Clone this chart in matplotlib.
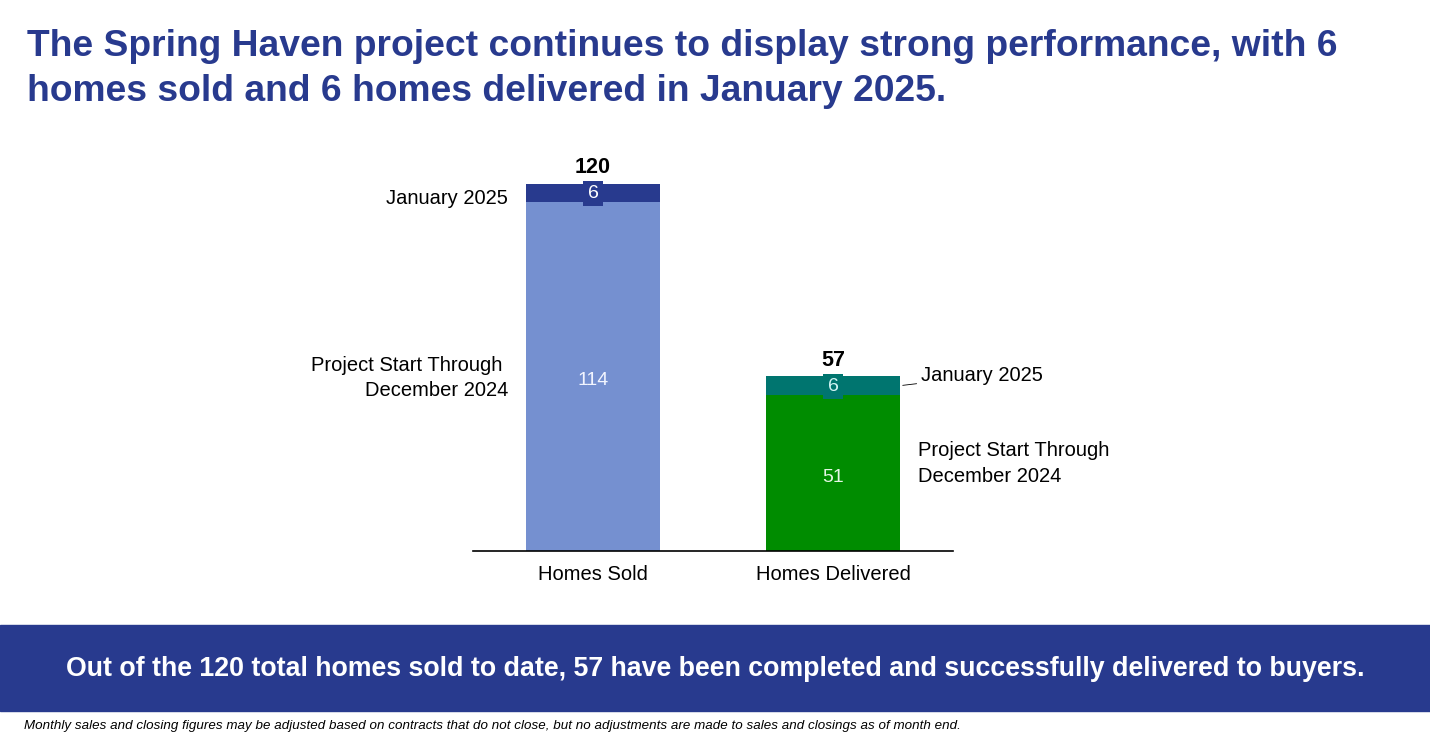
import matplotlib
matplotlib.use("Agg")
import matplotlib.pyplot as plt
from matplotlib.patches import Rectangle

plt.rcParams['font.family'] = ['Liberation Sans', 'DejaVu Sans']

# Data
categories = ["Homes Sold", "Homes Delivered"]
through_dec_2024 = [114, 51]
january_2025 = [6, 6]
totals = [a + b for a, b in zip(through_dec_2024, january_2025)]

navy = "#283a8e"
base_colors = ["#7590d0", "#008c00"]
top_colors = ["#283a8e", "#00756f"]
base_text_colors = ["#f2f5ff", "#e4f7e4"]
top_text_colors = ["white", "#d2f4f4"]

fig = plt.figure(figsize=(14.3, 7.39), dpi=100)

# Title, two lines
title_lines = ["The Spring Haven project continues to display strong performance, with 6",
               "homes sold and 6 homes delivered in January 2025."]
for line, base_px in zip(title_lines, [56, 101]):
    fig.text(27 / 1430, 1 - base_px / 739, line, color=navy, fontsize=26.8,
             fontweight="bold", ha="left", va="baseline")

# Chart area
ax = fig.add_axes([473 / 1430, 188 / 739, 480 / 1430, 398 / 739])
x = list(range(len(categories)))
width = 0.558
ax.bar(x, through_dec_2024, width, color=base_colors)
ax.bar(x, january_2025, width, bottom=through_dec_2024, color=top_colors)
ax.set_xlim(-0.5, 1.5)
ax.set_ylim(0, 130)
for s in ["top", "right", "left"]:
    ax.spines[s].set_visible(False)
ax.spines["bottom"].set_linewidth(1.2)
ax.set_yticks([])
ax.set_xticks(x)
ax.set_xticklabels(categories, fontsize=14.5)
ax.tick_params(axis="x", length=0, pad=10)

for i in x:
    # base segment value
    ax.annotate(str(through_dec_2024[i]), (i, through_dec_2024[i] / 2),
                xytext=(0, -3), textcoords="offset points", ha="center",
                va="center", fontsize=14, color=base_text_colors[i])
    # january segment value with box
    ax.annotate(str(january_2025[i]), (i, through_dec_2024[i] + january_2025[i] / 2),
                xytext=(0, -0.5), textcoords="offset points",
                ha="center", va="center", fontsize=14, color=top_text_colors[i],
                bbox=dict(boxstyle="square,pad=0.22", fc=top_colors[i], ec="none"))
    # totals
    ax.annotate(str(totals[i]), (i, totals[i]), xytext=(0, 4),
                textcoords="offset points", ha="center", va="bottom",
                fontsize=15.5, fontweight="bold")

# Series labels for first bar (left side)
ax.annotate("January 2025", (-width / 2, through_dec_2024[0] + january_2025[0] / 2),
            xytext=(-13, -4), textcoords="offset points", ha="right", va="center",
            fontsize=14.5)
ax.annotate("Project Start Through \nDecember 2024", (-width / 2, through_dec_2024[0] / 2),
            xytext=(-13, -1), textcoords="offset points", ha="right", va="center",
            fontsize=14.5, linespacing=1.45)

# Series labels for second bar (right side)
ax.annotate("January 2025", (1 + width / 2, through_dec_2024[1] + january_2025[1] / 2),
            xytext=(15, 7), textcoords="offset points", ha="left", va="center",
            fontsize=14.5,
            arrowprops=dict(arrowstyle="-", color="black", lw=0.6,
                            shrinkA=1, shrinkB=2))
ax.annotate("Project Start Through\nDecember 2024", (1 + width / 2, through_dec_2024[1] / 2),
            xytext=(13, 7), textcoords="offset points", ha="left", va="center",
            fontsize=14.5, linespacing=1.45)

# Banner
fig.patches.append(Rectangle((0, 1 - 711 / 739), 1, 86 / 739,
                             transform=fig.transFigure, color=navy, zorder=0))
fig.text(0.5, 1 - 669 / 739,
         "Out of the 120 total homes sold to date, 57 have been completed and successfully delivered to buyers.",
         color="white", fontsize=19.3, fontweight="bold", ha="center", va="center")

# Footnote
fig.text(24 / 1430, 1 - 726 / 739,
         "Monthly sales and closing figures may be adjusted based on contracts that do not close, "
         "but no adjustments are made to sales and closings as of month end.",
         fontsize=9.6, style="italic", ha="left", va="center")

fig.savefig("out.png", dpi=100)
